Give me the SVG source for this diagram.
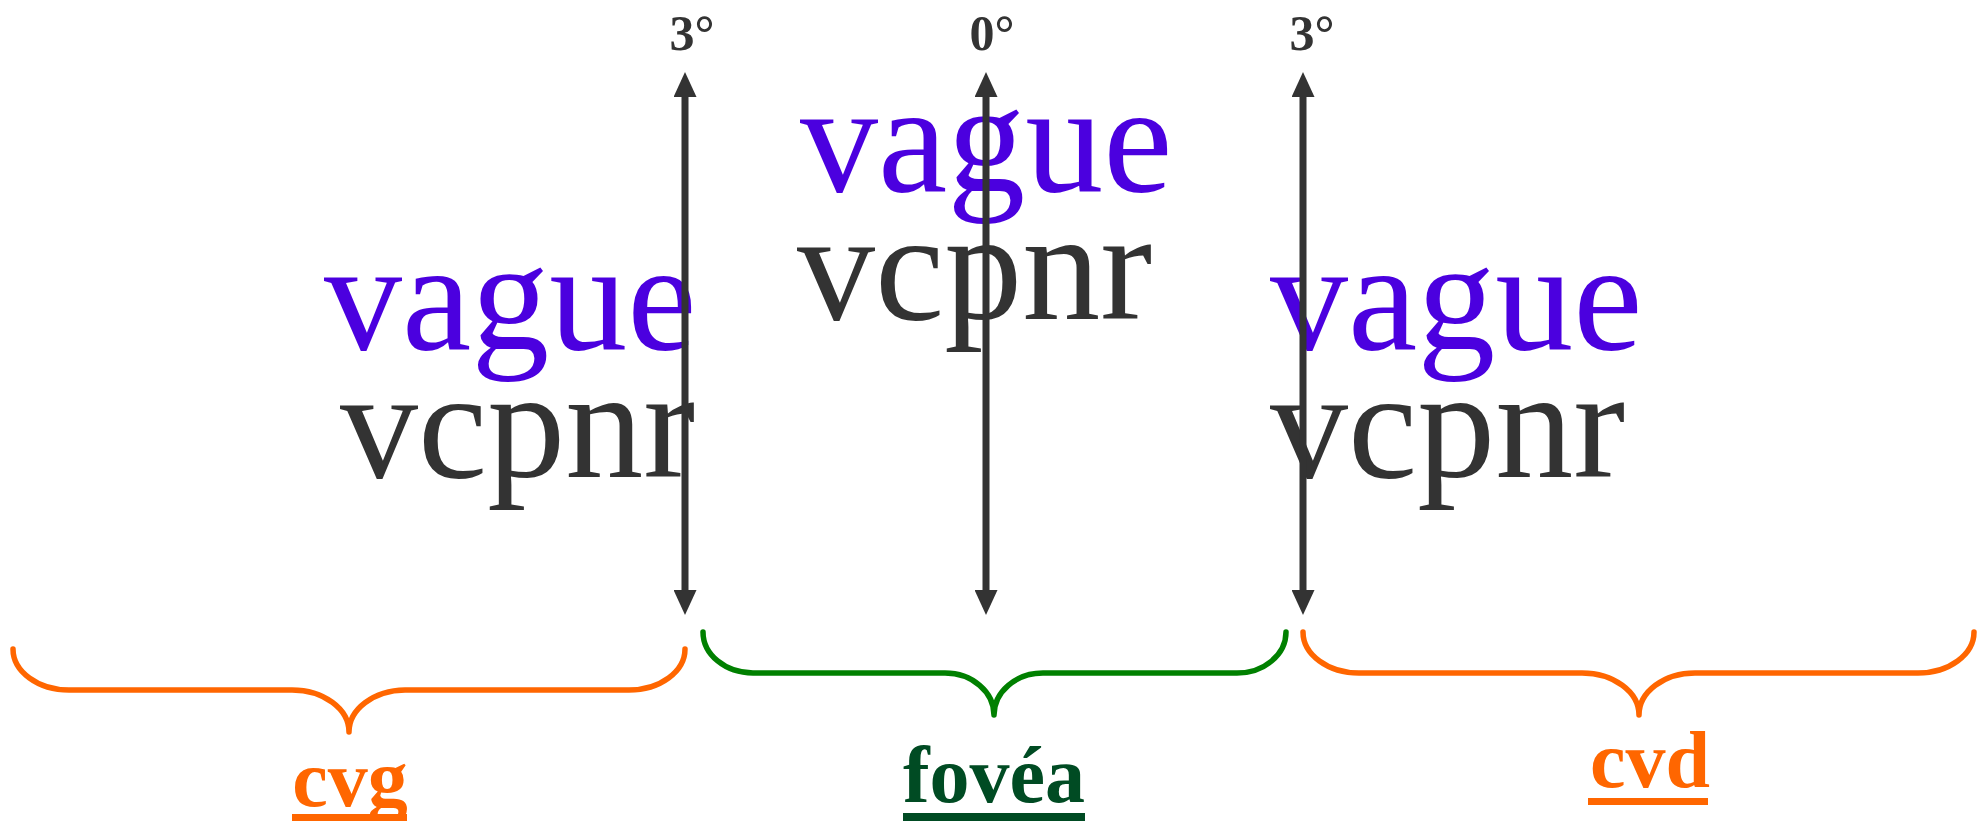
<svg xmlns="http://www.w3.org/2000/svg" width="1987" height="821" viewBox="0 0 1987 821">
  <style>
    .big { font-family: "Liberation Serif", "Times New Roman", serif; font-size: 156px; }
    .blue { fill: #4B00DF; }
    .dark { fill: #333333; }
    .deg { font-family: "Liberation Serif", "Times New Roman", serif; font-size: 50px; font-weight: bold; fill: #333333; text-anchor: middle; }
    .lbl { font-family: "Liberation Serif", "Times New Roman", serif; font-size: 80px; font-weight: bold; text-anchor: middle; }
    .brace { fill: none; stroke-width: 5.5; stroke-linecap: round; stroke-linejoin: round; }
    .orange { stroke: #FF6600; }
    .green { stroke: #008000; }
    .arrow { stroke: #333333; stroke-width: 7; fill: none; marker-start: url(#head); marker-end: url(#head); }
  </style>
  <defs>
    <marker id="head" markerUnits="userSpaceOnUse" markerWidth="25" markerHeight="23" refX="0" refY="11.5" orient="auto-start-reverse" viewBox="0 0 25 23">
      <path d="M0,0 L25,11.5 L0,23 z" fill="#333333"/>
    </marker>
  </defs>
  <rect width="1987" height="821" fill="#ffffff"/>

  <g id="left-words">
    <text class="big blue" x="324" y="349">vague</text>
    <text class="big dark" x="340" y="477">vcpnr</text>
  </g>
  <g id="center-words">
    <text class="big blue" x="800" y="191">vague</text>
    <text class="big dark" x="797" y="319">vcpnr</text>
  </g>
  <g id="right-words">
    <text class="big blue" x="1270" y="349">vague</text>
    <text class="big dark" x="1270" y="477">vcpnr</text>
  </g>

  <g id="degrees">
    <text class="deg" x="692" y="50">3°</text>
    <text class="deg" x="992" y="50">0°</text>
    <text class="deg" x="1312" y="50">3°</text>
  </g>

  <g id="connectors">
    <line class="arrow" x1="685" y1="97" x2="685" y2="590"/>
    <line class="arrow" x1="986" y1="97" x2="986" y2="590"/>
    <line class="arrow" x1="1303" y1="97" x2="1303" y2="590"/>
  </g>

  <g id="brace-cvg">
    <path class="brace orange" d="M13,649 A56,41 0 0 0 69,690 L292,690 A57,42 0 0 1 349,732 A57,42 0 0 1 405,690 L629,690 A56,41 0 0 0 685,649"/>
    <text class="lbl" x="350" y="806" fill="#FF6600">cvg</text>
    <rect x="292" y="814" width="115" height="7" fill="#FF6600"/>
  </g>
  <g id="brace-fovea">
    <path class="brace green" d="M703,632 A50,41 0 0 0 753,673 L945,673 A49,42 0 0 1 994,715 A49,42 0 0 1 1043,673 L1237,673 A49,41 0 0 0 1286,632"/>
    <text class="lbl" x="994" y="802" fill="#004B23">fovéa</text>
    <rect x="903" y="813" width="182" height="8" fill="#004B23"/>
  </g>
  <g id="brace-cvd">
    <path class="brace orange" d="M1303,632 A56,41 0 0 0 1359,673 L1582,673 A57,42 0 0 1 1639,715 A56,42 0 0 1 1695,673 L1918,673 A56,41 0 0 0 1974,632"/>
    <text class="lbl" x="1650" y="787" fill="#FF6600">cvd</text>
    <rect x="1588" y="798" width="120" height="7" fill="#FF6600"/>
  </g>
</svg>
